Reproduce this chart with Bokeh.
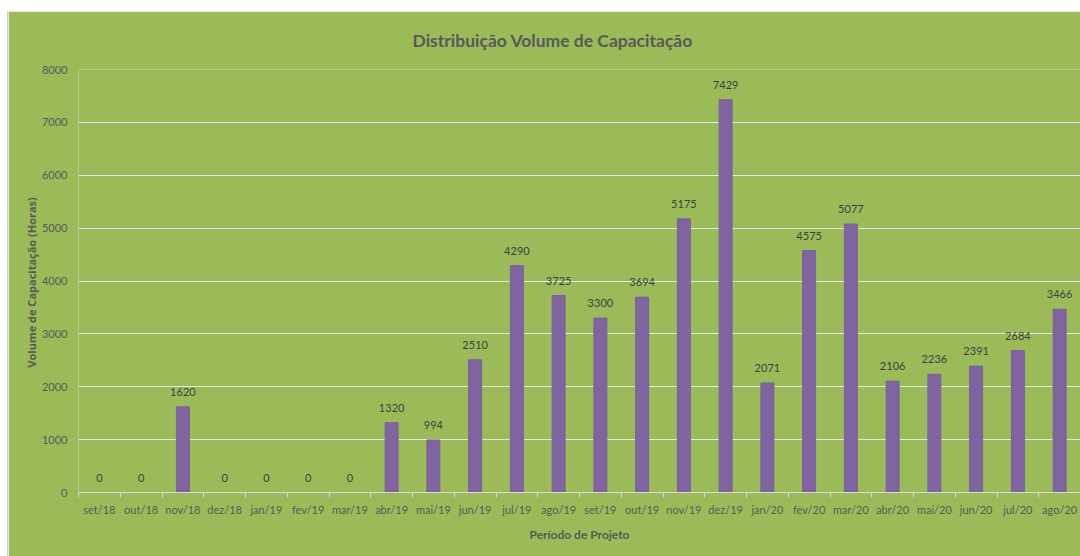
from bokeh.plotting import figure
from bokeh.models import ColumnDataSource, Range1d, FixedTicker, Spacer, Title
from bokeh.core.properties import value
from bokeh.layouts import column, row
from bokeh.embed import file_html
from bokeh.resources import INLINE

categories = ["set/18", "out/18", "nov/18", "dez/18", "jan/19", "fev/19", "mar/19", "abr/19",
              "mai/19", "jun/19", "jul/19", "ago/19", "set/19", "out/19", "nov/19", "dez/19",
              "jan/20", "fev/20", "mar/20", "abr/20", "mai/20", "jun/20", "jul/20", "ago/20"]
volumes = [0, 0, 1620, 0, 0, 0, 0, 1320, 994, 2510, 4290, 3725, 3300, 3694, 5175, 7429,
           2071, 4575, 5077, 2106, 2236, 2391, 2684, 3466]
y_ticks = [0, 1000, 2000, 3000, 4000, 5000, 6000, 7000, 8000]

GREEN = "#9BBB59"
PURPLE = "#8064A2"
TXT = "#595959"
FONT = "Lato"

n = len(categories)
centers = [i + 0.5 for i in range(n)]
src = ColumnDataSource(dict(x=centers, cat=categories, vol=volumes,
                            lab=[str(v) for v in volumes]))

p = figure(x_range=Range1d(0, n), y_range=Range1d(0, 8000), width=1072, height=545,
           output_backend="svg", toolbar_location=None,
           background_fill_color=GREEN, border_fill_color=GREEN,
           min_border_left=70, min_border_right=0, min_border_top=58, min_border_bottom=64)
p.outline_line_color = None

p.vbar(x="x", top="vol", width=0.31, source=src, fill_color=PURPLE, line_color="#7a5e9c")
p.text(x="x", y="vol", text="lab", source=src, text_align="center", text_baseline="bottom",
       y_offset=-11, text_font_size="11px", text_color="#404040", text_font=value(FONT))

# y axis
yaxis = p.yaxis[0]
yaxis.ticker = FixedTicker(ticks=y_ticks)
yaxis.axis_line_color = None
yaxis.axis_line_width = 0
yaxis.major_tick_line_color = None
yaxis.minor_tick_line_color = None
yaxis.major_tick_out = 0
yaxis.major_tick_in = 0
yaxis.minor_tick_out = 0
yaxis.minor_tick_in = 0
yaxis.major_label_standoff = 11
yaxis.major_label_text_font = FONT
yaxis.major_label_text_font_size = "11px"
yaxis.major_label_text_color = TXT
yaxis.axis_label = "Volume de Capacitação  (Horas)"
yaxis.axis_label_text_font = "Open Sans"
yaxis.axis_label_text_font_style = "bold"
yaxis.axis_label_text_font_size = "11px"
yaxis.axis_label_text_color = TXT
yaxis.axis_label_standoff = 0

p.ygrid.grid_line_color = "#e4e4e4"
p.ygrid.grid_line_width = 1
p.xgrid.grid_line_color = None
p.xgrid.visible = False

# x axis: labels at category centres, ticks at category boundaries
xaxis = p.xaxis[0]
xaxis.ticker = FixedTicker(ticks=centers, minor_ticks=list(range(n + 1)))
xaxis.major_label_overrides = {c: lab for c, lab in zip(centers, categories)}
xaxis.axis_line_color = "#dcdcdc"
xaxis.axis_line_width = 1
xaxis.major_tick_out = 0
xaxis.major_tick_in = 0
xaxis.minor_tick_out = 5
xaxis.minor_tick_in = 0
xaxis.minor_tick_line_color = "#dcdcdc"
xaxis.major_label_standoff = 5
xaxis.major_label_text_font = FONT
xaxis.major_label_text_font_size = "11px"
xaxis.major_label_text_color = TXT
xaxis.axis_label = "Período de Projeto"
xaxis.axis_label_text_font = FONT
xaxis.axis_label_text_font_style = "bold"
xaxis.axis_label_text_font_size = "12px"
xaxis.axis_label_text_color = TXT
xaxis.axis_label_standoff = 8

title = Title(text="Distribuição Volume de Capacitação", align="left", offset=334,
              vertical_align="top",
              text_font=FONT, text_font_style="bold", text_font_size="17.5px",
              text_color=TXT, standoff=34)
p.add_layout(title, "above")

layout = column(
    Spacer(width=1080, height=10),
    Spacer(width=1073, height=1, background="#cfcfcf", styles={"margin-left": "7px"}),
    row(Spacer(width=7, height=545), Spacer(width=1, height=545, background="#cfcfcf"), p),
)

open("out.html", "w").write(file_html(layout, INLINE))
